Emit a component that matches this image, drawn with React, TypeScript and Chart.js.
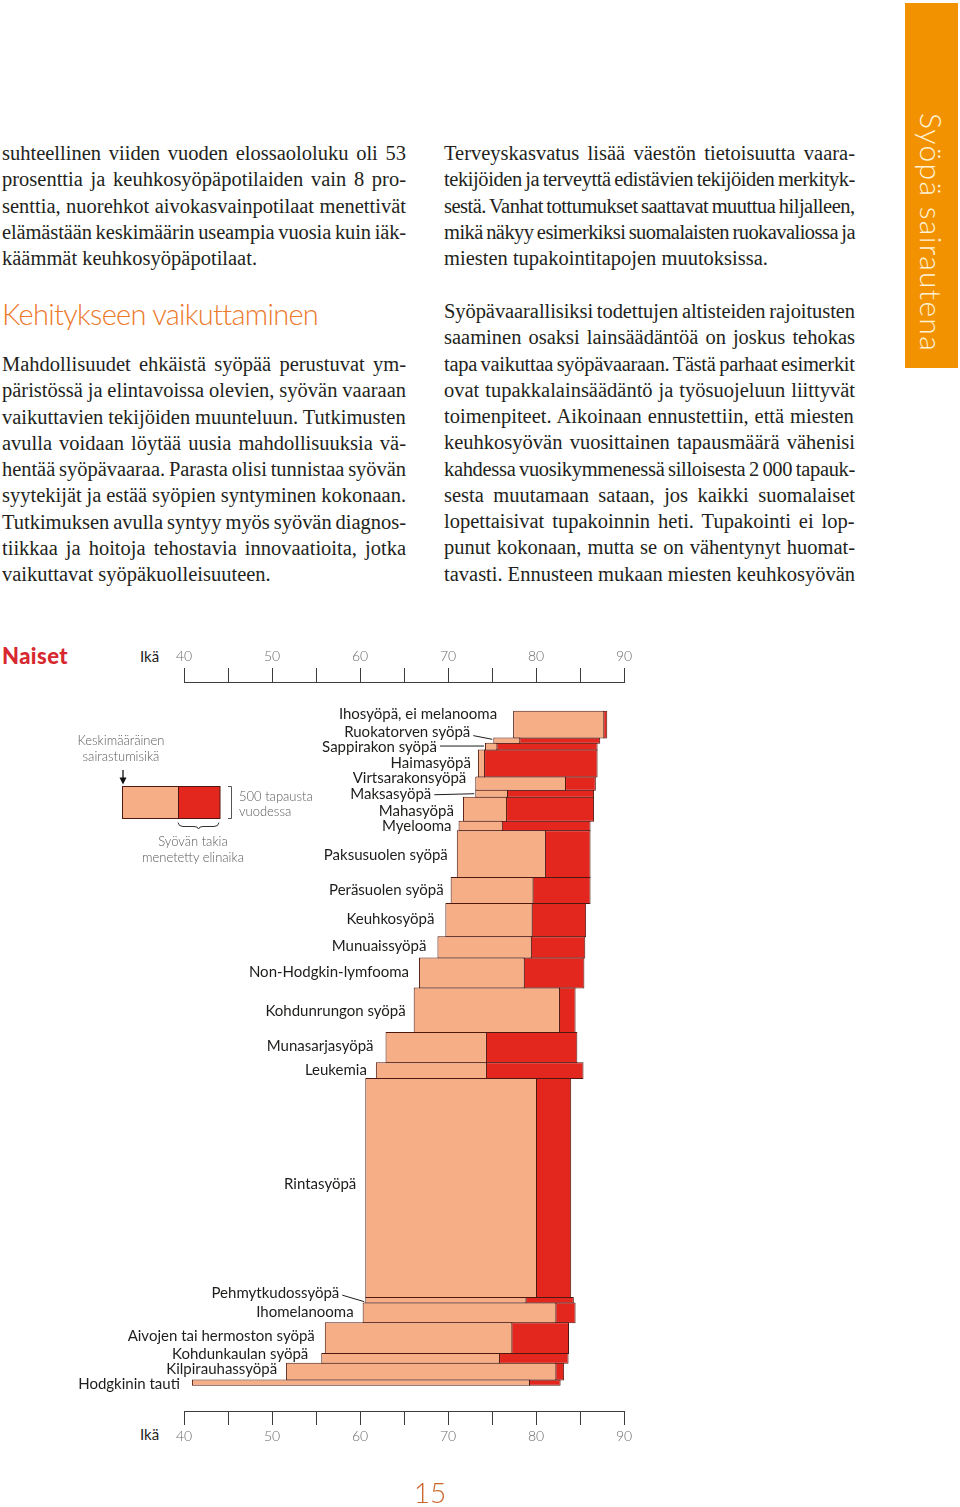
import React, { useEffect, useRef } from 'react';
import { Chart, registerables } from 'chart.js';

Chart.register(...registerables);

// ---------------- chart data ----------------
const cancers = [
  'Ihosyöpä, ei melanooma',
  'Ruokatorven syöpä',
  'Sappirakon syöpä',
  'Haimasyöpä',
  'Virtsarakonsyöpä',
  'Maksasyöpä',
  'Mahasyöpä',
  'Myelooma',
  'Paksusuolen syöpä',
  'Peräsuolen syöpä',
  'Keuhkosyöpä',
  'Munuaissyöpä',
  'Non-Hodgkin-lymfooma',
  'Kohdunrungon syöpä',
  'Munasarjasyöpä',
  'Leukemia',
  'Rintasyöpä',
  'Pehmytkudossyöpä',
  'Ihomelanooma',
  'Aivojen tai hermoston syöpä',
  'Kohdunkaulan syöpä',
  'Kilpirauhassyöpä',
  'Hodgkinin tauti',
];

// new cases per year (bar height)
const casesPerYear = [420, 80, 105, 425, 205, 110, 375, 150, 730, 405, 520, 330, 470, 695, 475, 245, 3420, 85, 310, 480, 155, 260, 80];

// mean age at diagnosis (bar start)
const diagnosisAge = [77.4, 75.15, 74.2, 73.4, 73.1, 73.1, 71.7, 71.2, 71.0, 70.3, 69.7, 68.8, 66.7, 66.1, 62.9, 61.8, 60.6, 60.6, 60.3, 56.0, 55.6, 51.6, 40.9];

// mean age reached (end of light part)
const survivalAge = [87.65, 78.1, 75.5, 74.1, 83.3, 76.7, 76.6, 76.1, 81.0, 79.6, 79.5, 79.4, 78.6, 82.6, 74.3, 74.3, 80.0, 78.8, 82.2, 77.2, 75.8, 82.2, 79.2];

// expected age without cancer (end of red part)
const expectedAge = [88.1, 87.3, 87.0, 87.0, 86.8, 86.6, 86.6, 86.2, 86.2, 86.2, 85.7, 85.6, 85.5, 84.5, 84.7, 85.4, 84.0, 84.3, 84.5, 83.75, 83.7, 83.2, 82.8];

const ageMin = 40;
const ageMax = 90;
const ageStep = 5;
const ageLabels = ['40', '50', '60', '70', '80', '90'];

// ---------------- label layout (not data) ----------------
type LabelLayout = { dx: number; dy: number; leader?: [number, number] };
const labelLayout: LabelLayout[] = [
  { dx: -16, dy: -10 },
  { dx: -23, dy: -8, leader: [3.5, -0.8] },
  { dx: -48, dy: 1, leader: [-1, 0] },
  { dx: -7, dy: 0 },
  { dx: -9, dy: -5 },
  { dx: -44, dy: 1, leader: [0.5, 0.5] },
  { dx: -9, dy: 2 },
  { dx: -7, dy: 1 },
  { dx: -9, dy: 1 },
  { dx: -7, dy: 0 },
  { dx: -11, dy: 0 },
  { dx: -11, dy: -1 },
  { dx: -10, dy: 0 },
  { dx: -8, dy: 1 },
  { dx: -12, dy: -1 },
  { dx: -9, dy: 0 },
  { dx: -9, dy: -3 },
  { dx: -26, dy: -7, leader: [2.5, 2] },
  { dx: -9, dy: 0 },
  { dx: -10, dy: -1 },
  { dx: -13, dy: -4 },
  { dx: -9, dy: -2 },
  { dx: -12, dy: 2 },
];

// ---------------- page text ----------------
const leftPara1 = [
  'suhteellinen viiden vuoden elossaololuku oli 53',
  'prosenttia ja keuhkosyöpäpotilaiden vain 8 pro-',
  'senttia, nuorehkot aivokasvainpotilaat menettivät',
  'elämästään keskimäärin useampia vuosia kuin iäk-',
  'käämmät keuhkosyöpäpotilaat.',
];
const leftHeading = 'Kehitykseen vaikuttaminen';
const leftPara2 = [
  'Mahdollisuudet ehkäistä syöpää perustuvat ym-',
  'päristössä ja elintavoissa olevien, syövän vaaraan',
  'vaikuttavien tekijöiden muunteluun. Tutkimusten',
  'avulla voidaan löytää uusia mahdollisuuksia vä-',
  'hentää syöpävaaraa. Parasta olisi tunnistaa syövän',
  'syytekijät ja estää syöpien syntyminen kokonaan.',
  'Tutkimuksen avulla syntyy myös syövän diagnos-',
  'tiikkaa ja hoitoja tehostavia innovaatioita, jotka',
  'vaikuttavat syöpäkuolleisuuteen.',
];
const rightPara1 = [
  'Terveyskasvatus lisää väestön tietoisuutta vaara-',
  'tekijöiden ja terveyttä edistävien tekijöiden merkityk-',
  'sestä. Vanhat tottumukset saattavat muuttua hiljalleen,',
  'mikä näkyy esimerkiksi suomalaisten ruokavaliossa ja',
  'miesten tupakointitapojen muutoksissa.',
];
const rightPara2 = [
  'Syöpävaarallisiksi todettujen altisteiden rajoitusten',
  'saaminen osaksi lainsäädäntöä on joskus tehokas',
  'tapa vaikuttaa syöpävaaraan. Tästä parhaat esimerkit',
  'ovat tupakkalainsäädäntö ja työsuojeluun liittyvät',
  'toimenpiteet. Aikoinaan ennustettiin, että miesten',
  'keuhkosyövän vuosittainen tapausmäärä vähenisi',
  'kahdessa vuosikymmenessä silloisesta 2 000 tapauk-',
  'sesta muutamaan sataan, jos kaikki suomalaiset',
  'lopettaisivat tupakoinnin heti. Tupakointi ei lop-',
  'punut kokonaan, mutta se on vähentynyt huomat-',
  'tavasti. Ennusteen mukaan miesten keuhkosyövän',
];

// ---------------- styles ----------------
const SERIF = '"Liberation Serif", "Times New Roman", serif';
const SANS = 'Lato, "Open Sans", sans-serif';
const SALMON = '#F5AE85';
const RED = '#E3271F';
const OUTLINE = '#4E1810';
const ORANGE = '#F39200';
const TEXT = '#231F20';
const BODY_SIZE = 20.5;

const CANVAS_TOP = 630;
const CANVAS_H = 830;

const cumStart: number[] = [];
casesPerYear.reduce((acc, v, i) => {
  cumStart[i] = acc;
  return acc + v;
}, 0);
const totalCases = casesPerYear.reduce((a, b) => a + b, 0);

let mctx: CanvasRenderingContext2D | null = null;
function textWidth(text: string, font: string): number {
  if (!mctx) mctx = document.createElement('canvas').getContext('2d');
  mctx!.font = font;
  return mctx!.measureText(text).width;
}

type LineProps = {
  text: string;
  x: number;
  cy: number;
  width?: number;
  size: number;
  family: string;
  weight?: number;
  color?: string;
  mode?: 'justify' | 'fit' | 'left' | 'center';
  lh?: number;
};

function Line({ text, x, cy, width = 0, size, family, weight = 400, color = TEXT, mode = 'left', lh = 26 }: LineProps) {
  const font = `${weight} ${size}px ${family}`;
  const natural = textWidth(text, font);
  const spaces = (text.match(/ /g) || []).length;
  let wordSpacing = 0;
  let letterSpacing = 0;
  if (mode === 'justify' || (mode === 'left' && width > 0 && natural > width)) {
    let extra = width - natural;
    if (extra >= 0 && spaces > 0) {
      wordSpacing = extra / spaces;
    } else if (extra < 0) {
      const ws = Math.max(extra / Math.max(spaces, 1), -1.2);
      wordSpacing = spaces > 0 ? ws : 0;
      extra -= wordSpacing * spaces;
      if (extra < 0) letterSpacing = extra / text.length;
    }
  } else if (mode === 'fit') {
    letterSpacing = (width - natural) / text.length;
  }
  const style: React.CSSProperties = {
    position: 'absolute',
    left: mode === 'center' ? x - 150 : x,
    top: cy - lh / 2,
    width: mode === 'center' ? 300 : undefined,
    textAlign: mode === 'center' ? 'center' : 'left',
    height: lh,
    lineHeight: `${lh}px`,
    whiteSpace: 'pre',
    fontFamily: family,
    fontSize: size,
    fontWeight: weight,
    color,
    wordSpacing: `${wordSpacing}px`,
    letterSpacing: `${letterSpacing}px`,
  };
  return <div style={style}>{text}</div>;
}

function Paragraph({ lines, x, cy0, width, last = true }: { lines: string[]; x: number; cy0: number; width: number; last?: boolean }) {
  return (
    <>
      {lines.map((t, i) => (
        <Line
          key={i}
          text={t}
          x={x}
          cy={cy0 + i * 26.25}
          width={width}
          size={BODY_SIZE}
          family={SERIF}
          mode={last && i === lines.length - 1 ? 'left' : 'justify'}
        />
      ))}
    </>
  );
}

// bar heights from the number of cases, via the chart's y scale
const caseHeightPlugin = {
  id: 'caseHeights',
  beforeDatasetsDraw(chart: any) {
    const ys = chart.scales.y;
    const xs = chart.scales.x;
    chart.data.datasets.forEach((_ds: any, d: number) => {
      const meta = chart.getDatasetMeta(d);
      meta.data.forEach((el: any, i: number) => {
        const top = ys.getPixelForValue(cumStart[i]);
        const bottom = ys.getPixelForValue(cumStart[i] + casesPerYear[i]);
        el.y = (top + bottom) / 2 + 0.5;
        el.height = Math.abs(bottom - top) + 1;
        if (d === 0) el.x = xs.getPixelForValue(survivalAge[i]) + 1;
      });
    });
  },
};

const labelPlugin = {
  id: 'cancerLabels',
  afterDatasetsDraw(chart: any) {
    const { ctx } = chart;
    const xs = chart.scales.x;
    const ys = chart.scales.y;
    ctx.save();
    ctx.font = `400 15px ${SANS}`;
    ctx.fillStyle = '#1D1D1B';
    ctx.strokeStyle = '#1D1D1B';
    ctx.lineWidth = 1;
    ctx.textAlign = 'right';
    ctx.textBaseline = 'middle';
    cancers.forEach((name, i) => {
      const barX = xs.getPixelForValue(diagnosisAge[i]);
      const cy = ys.getPixelForValue(cumStart[i] + casesPerYear[i] / 2);
      const L = labelLayout[i];
      const tx = barX + L.dx;
      const ty = cy + L.dy;
      ctx.fillText(name, tx, ty);
      if (L.leader) {
        ctx.beginPath();
        ctx.moveTo(tx + 3, ty + L.leader[0]);
        ctx.lineTo(barX - 1, cy + L.leader[1]);
        ctx.stroke();
      }
    });
    ctx.restore();
  },
};

function axisOptions(position: 'top' | 'bottom') {
  return {
    type: 'linear' as const,
    position,
    min: ageMin,
    max: ageMax,
    beginAtZero: false,
    grid: { display: true, drawOnChartArea: false, drawTicks: true, tickLength: 14, color: '#3C3C3C', lineWidth: 1 },
    border: { display: true, color: '#3C3C3C', width: 1 },
    ticks: {
      stepSize: ageStep,
      autoSkip: false,
      maxRotation: 0,
      padding: 3,
      color: '#6B6B6B',
      font: { family: SANS, size: 14, weight: 300 as any },
      callback: (v: any) => {
        const s = String(v);
        return ageLabels.includes(s) ? s : '';
      },
    },
  };
}

function BarChart() {
  const ref = useRef<HTMLCanvasElement | null>(null);
  useEffect(() => {
    if (!ref.current) return;
    const mids = cancers.map((_, i) => cumStart[i] + casesPerYear[i] / 2);
    const chart = new Chart(ref.current, {
      type: 'bar',
      data: {
        datasets: [
          {
            label: 'Elinaika',
            data: cancers.map((_, i) => ({ x: [diagnosisAge[i], survivalAge[i]], y: mids[i] })) as any,
            backgroundColor: SALMON,
            borderColor: OUTLINE,
            borderWidth: 1,
            borderSkipped: false,
            grouped: false,
          } as any,
          {
            label: 'Syövän takia menetetty elinaika',
            data: cancers.map((_, i) => ({ x: [survivalAge[i], expectedAge[i]], y: mids[i] })) as any,
            backgroundColor: RED,
            borderColor: OUTLINE,
            borderWidth: 1,
            borderSkipped: false,
            grouped: false,
          } as any,
        ],
      },
      options: {
        indexAxis: 'y',
        responsive: false,
        animation: false,
        devicePixelRatio: 1,
        layout: { padding: { left: 184, right: 336, top: 15.2, bottom: 12.2 } },
        plugins: { legend: { display: false }, tooltip: { enabled: false } },
        scales: {
          x: axisOptions('bottom'),
          x2: axisOptions('top'),
          y: { type: 'linear', reverse: true, min: -448, max: totalCases + 412, display: false, offset: false },
        } as any,
      },
      plugins: [caseHeightPlugin, labelPlugin],
    });
    return () => chart.destroy();
  }, []);
  return (
    <canvas
      ref={ref}
      width={960}
      height={CANVAS_H}
      style={{ position: 'absolute', left: 0, top: CANVAS_TOP, width: 960, height: CANVAS_H }}
    />
  );
}

export default function App() {
  const legendFont = { size: 13, family: SANS, weight: 300, color: '#5A5A5A', lh: 16 };
  return (
    <div style={{ position: 'absolute', left: 0, top: 0, width: 960, height: 1507, background: '#fff', overflow: 'hidden' }}>
      {/* orange side tab */}
      <div style={{ position: 'absolute', left: 905, top: 3, width: 53, height: 365, background: ORANGE }} />
      <div
        style={{
          position: 'absolute',
          left: 916,
          top: 113,
          width: 32,
          height: 240,
          writingMode: 'vertical-rl',
          fontFamily: SANS,
          fontWeight: 300,
          fontSize: 30,
          lineHeight: '32px',
          color: '#FFF3D6',
          whiteSpace: 'pre',
          letterSpacing: `${(239 - textWidth('Syöpä sairautena', `300 30px ${SANS}`)) / 16}px`,
        }}
      >
        Syöpä sairautena
      </div>

      {/* text columns */}
      <Paragraph lines={leftPara1} x={2} cy0={153} width={404} />
      <Line text={leftHeading} x={2} cy={314} width={316} size={29} family={SANS} weight={300} color="#EC7A2C" mode="fit" lh={36} />
      <Paragraph lines={leftPara2} x={2} cy0={364} width={404} />
      <Paragraph lines={rightPara1} x={444} cy0={153} width={411} />
      <Paragraph lines={rightPara2} x={444} cy0={311} width={411} last={false} />

      {/* chart titles */}
      <Line text="Naiset" x={2} cy={656} width={66} size={22} family={SANS} weight={900} color="#D7282F" mode="fit" lh={28} />
      <Line text="Ikä" x={140} cy={656} size={15} family={SANS} weight={400} color="#1D1D1B" lh={20} />
      <Line text="Ikä" x={140} cy={1434} size={15} family={SANS} weight={400} color="#1D1D1B" lh={20} />

      <BarChart />

      {/* legend */}
      <Line text="Keskimääräinen" x={121} cy={740} {...legendFont} mode="center" />
      <Line text="sairastumisikä" x={121} cy={756} {...legendFont} mode="center" />
      <Line text="500 tapausta" x={239} cy={796} {...legendFont} />
      <Line text="vuodessa" x={239} cy={811} {...legendFont} />
      <Line text="Syövän takia" x={193} cy={841} {...legendFont} mode="center" />
      <Line text="menetetty elinaika" x={193} cy={857} {...legendFont} mode="center" />
      <svg style={{ position: 'absolute', left: 0, top: 0 }} width={960} height={1507}>
        <rect x={122.5} y={786.5} width={56} height={32} fill={SALMON} stroke={OUTLINE} strokeWidth={1} />
        <rect x={178.5} y={786.5} width={41.5} height={32} fill={RED} stroke={OUTLINE} strokeWidth={1} />
        <line x1={123} y1={770} x2={123} y2={780} stroke="#111" strokeWidth={1.3} />
        <polygon points="119.5,777.5 126.5,777.5 123,784.5" fill="#111" />
        <path d="M 228 786.5 H 231.5 V 818.5 H 228" fill="none" stroke="#555" strokeWidth={1} />
        <path d="M 178 822.5 Q 178.5 826.5 183 826.5 L 194 826.5 Q 198 826.5 198.5 829 Q 199 826.5 203 826.5 L 214 826.5 Q 218.5 826.5 219 822.5" fill="none" stroke="#333" strokeWidth={1} />
      </svg>

      {/* page number */}
      <Line text="15" x={430} cy={1492} size={28} family={SANS} weight={300} color="#C9652B" mode="center" lh={34} />
    </div>
  );
}
